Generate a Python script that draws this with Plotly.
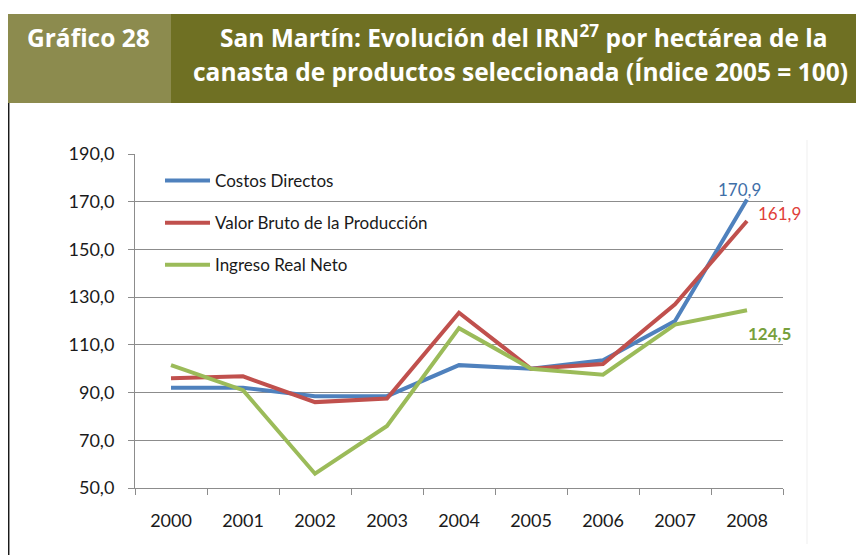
import plotly.graph_objects as go

# ---- data ----
years = ["2000", "2001", "2002", "2003", "2004", "2005", "2006", "2007", "2008"]
costos_directos = [92.0, 92.0, 88.5, 88.5, 101.5, 100.0, 103.5, 120.0, 170.9]
valor_bruto = [96.0, 96.8, 86.0, 87.5, 123.5, 100.0, 102.0, 127.0, 161.9]
ingreso_real_neto = [101.5, 91.0, 56.0, 76.0, 117.0, 100.0, 97.5, 118.5, 124.5]
series_names = ["Costos Directos", "Valor Bruto de la Producción", "Ingreso Real Neto"]
y_ticks = [50, 70, 90, 110, 130, 150, 170, 190]

# ---- layout geometry (screen pixels; page body has an 8px margin) ----
W, H = 864, 555
OFF = 8
PL, PR, PT, PB = 135 - OFF, 783 - OFF, 154 - OFF, 488 - OFF


def xp(sx):
    return (sx - OFF - PL) / (PR - PL)


def yp(sy):
    return (PB - (sy - OFF)) / (PB - PT)


colors = ["#4F81BD", "#C0504D", "#9BBB59"]
label_colors = ["#3F6FA8", "#E0403A", "#77A03C"]
FONT = "Lato"
TFONT = "Open Sans"
TSIZE = 24.5

fig = go.Figure()
all_series = [costos_directos, valor_bruto, ingreso_real_neto]
for i, (name, vals) in enumerate(zip(series_names, all_series)):
    fig.add_trace(go.Scatter(
        x=years, y=vals, name=name, mode="lines",
        line=dict(color=colors[i], width=4),
        legendgroup=f"g{i}",
    ))

# end-point data labels
label_shifts = [(-8, 10, False), (32, 8, False), (22, -23, True)]
for i, vals in enumerate(all_series):
    dx, dy, bold = label_shifts[i]
    txt = f"{vals[-1]:.1f}".replace(".", ",")
    if bold:
        txt = f"<b>{txt}</b>"
    fig.add_annotation(
        x=len(years) - 1, y=vals[-1], xref="x", yref="y", text=txt, showarrow=False,
        xanchor="center", yanchor="middle",
        xshift=dx, yshift=dy, font=dict(family=FONT, size=17, color=label_colors[i]),
    )

shapes = []
# header bands
shapes.append(dict(type="rect", xref="paper", yref="paper", x0=xp(7), x1=xp(171), y0=yp(103), y1=yp(14),
                   fillcolor="#8C8B4E", line=dict(width=0), layer="below"))
shapes.append(dict(type="rect", xref="paper", yref="paper", x0=xp(171), x1=xp(880), y0=yp(103), y1=yp(14),
                   fillcolor="#6F7023", line=dict(width=0), layer="below"))
# left frame line
shapes.append(dict(type="line", xref="paper", yref="paper", x0=xp(8.7), x1=xp(8.7), y0=yp(103), y1=yp(570),
                   line=dict(color="#1A1A1A", width=1.5)))
# faint chart-area border on the right
shapes.append(dict(type="line", xref="paper", yref="paper", x0=xp(807), x1=xp(807), y0=yp(140), y1=yp(544),
                   line=dict(color="#EFEFEF", width=1)))

annotations = [
    dict(text="<b>Gráfico 28</b>", x=xp(88.5), y=yp(38), xref="paper", yref="paper",
         xanchor="center", yanchor="middle", showarrow=False,
         font=dict(family=TFONT, size=TSIZE, color="white")),
    dict(text="<b>San Martín: Evolución del IRN<sup>27</sup> por hectárea de la</b>", x=xp(524), y=yp(56),
         xref="paper", yref="paper", xanchor="center", yanchor="bottom", showarrow=False,
         font=dict(family=TFONT, size=TSIZE, color="white")),
    dict(text="<b>canasta de productos seleccionada (Índice 2005 = 100)</b>", x=xp(520), y=yp(72),
         xref="paper", yref="paper", xanchor="center", yanchor="middle", showarrow=False,
         font=dict(family=TFONT, size=TSIZE, color="white")),
]
for a in annotations:
    fig.add_annotation(**a)

fig.update_layout(
    width=W, height=H,
    margin=dict(l=PL, r=W - PR, t=PT, b=H - PB),
    paper_bgcolor="white", plot_bgcolor="white",
    separators=",.",
    font=dict(family=FONT, size=17, color="#1A1A1A"),
    shapes=shapes,
    showlegend=True,
    legend=dict(
        x=xp(160), y=yp(163), xanchor="left", yanchor="top",
        bgcolor="rgba(0,0,0,0)", borderwidth=0,
        font=dict(family=FONT, size=17, color="#1A1A1A"),
        tracegroupgap=17, itemwidth=45,
    ),
    xaxis=dict(
        type="category", range=[-0.5, 8.5], tickson="boundaries",
        showgrid=False, showline=True, linecolor="#8C8C8C", linewidth=1,
        ticks="outside", ticklen=6, tickcolor="#8C8C8C",
        tickfont=dict(family=FONT, size=18, color="#1A1A1A"),
        ticklabelstandoff=16, fixedrange=True,
    ),
    yaxis=dict(
        range=[50, 190], tickvals=y_ticks, tickformat=".1f",
        showgrid=True, gridcolor="#8C8C8C", gridwidth=1,
        showline=True, linecolor="#8C8C8C", linewidth=1,
        ticks="outside", ticklen=6, tickcolor="#8C8C8C",
        tickfont=dict(family=FONT, size=18, color="#1A1A1A"),
        ticklabelstandoff=10, zeroline=False, fixedrange=True,
    ),
)

fig.write_html("out.html")
